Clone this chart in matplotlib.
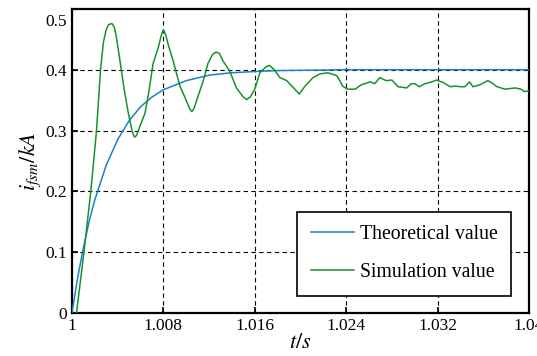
import matplotlib
matplotlib.use("Agg")
import matplotlib.pyplot as plt
from matplotlib.transforms import ScaledTranslation

plt.rcParams['font.family'] = ['Liberation Serif', 'DejaVu Serif']
plt.rcParams['mathtext.fontset'] = 'stix'

# theoretical value (t in ms after 1 s, current in kA)
t_theo_ms = [0, 0.5, 1, 1.5, 2, 3, 4, 5, 6, 7, 8, 10, 12, 14, 16, 18, 20, 24, 30, 40]
i_theo = [0, 0.058, 0.107, 0.150, 0.186, 0.243, 0.285, 0.316, 0.339, 0.355, 0.367,
          0.382, 0.391, 0.395, 0.397, 0.3986, 0.399, 0.4, 0.4, 0.4]

# simulation value
t_sim_ms = [0.4, 1.05, 1.65, 2.15, 2.5, 2.75, 3.0, 3.2, 3.5, 3.7, 3.85, 4.0, 4.2, 4.55,
            4.9, 5.25, 5.4, 5.5, 5.65, 5.95, 6.4, 6.7, 7.1, 7.55, 7.8, 8.0, 8.2, 8.4,
            8.85, 9.45, 9.9, 10.3, 10.5, 10.7, 10.9, 11.5, 11.9, 12.3, 12.6, 12.9, 13.2,
            13.8, 14.4, 15.0, 15.3, 15.6, 16.0, 16.45, 17.0, 17.3, 17.7,
            18.2, 18.8, 19.4, 19.9, 20.4, 21.1, 21.7, 22.4, 23.2, 23.7, 24.1, 24.8,
            25.3, 26.1, 26.5, 26.95, 27.5, 28.0, 28.55, 29.3, 29.7, 30.0, 30.4, 30.9,
            31.5, 31.9, 32.5, 33.1, 33.5, 34.1, 34.4, 34.8, 35.1, 35.7, 36.4, 36.7,
            37.2, 37.9, 38.8, 39.3, 39.6, 40.0]
i_sim = [0, 0.1, 0.2, 0.3, 0.4, 0.445, 0.466, 0.474, 0.476, 0.47, 0.458, 0.44, 0.415, 0.37,
         0.332, 0.3, 0.292, 0.289, 0.292, 0.307, 0.329, 0.36, 0.41, 0.436, 0.455, 0.466,
         0.458, 0.443, 0.415, 0.373, 0.354, 0.336, 0.331, 0.337, 0.349, 0.382, 0.41,
         0.425, 0.429, 0.427, 0.415, 0.398, 0.37, 0.355, 0.351, 0.355, 0.368, 0.395,
         0.405, 0.407, 0.4, 0.387, 0.382, 0.37, 0.36, 0.373, 0.387, 0.393, 0.395, 0.39,
         0.373, 0.368, 0.368, 0.375, 0.38, 0.377, 0.387, 0.382, 0.383, 0.372, 0.37,
         0.377, 0.377, 0.372, 0.377, 0.38, 0.383, 0.379, 0.372, 0.373, 0.372, 0.372,
         0.38, 0.372, 0.375, 0.382, 0.379, 0.372, 0.368, 0.37, 0.368, 0.364, 0.365]

x_ticks = [1, 1.008, 1.016, 1.024, 1.032, 1.04]
x_labels = ['1', '1.008', '1.016', '1.024', '1.032', '1.04']
y_ticks = [0, 0.1, 0.2, 0.3, 0.4, 0.5]
y_labels = ['0', '0.1', '0.2', '0.3', '0.4', '0.5']

t_theo = [1 + v / 1000 for v in t_theo_ms]
t_sim = [1 + v / 1000 for v in t_sim_ms]

fig = plt.figure(figsize=(5.37, 3.56), dpi=100)
ax = fig.add_axes([0.134, 0.121, 0.851, 0.854])

ax.plot(t_theo, i_theo, color='#1a7fd0', lw=1.1, label='Theoretical value', zorder=3)
ax.plot(t_sim, i_sim, color='#18922a', lw=1.1, label='Simulation value', zorder=3)

ax.set_xlim(1, 1.04)
ax.set_ylim(0, 0.5)
ax.set_xticks(x_ticks)
ax.set_xticklabels(x_labels)
ax.set_yticks(y_ticks)
ax.set_yticklabels(y_labels)
ax.tick_params(direction='in', length=4, width=1.2, labelsize=12.5)
ax.grid(True, color='black', linestyle=(0, (4, 3)), linewidth=0.8)
for sp in ax.spines.values():
    sp.set_linewidth(1.6)

# top label sits a bit lower in the original
lbl = ax.get_yticklabels()[-1]
lbl.set_transform(lbl.get_transform() + ScaledTranslation(0, -8 / 72, fig.dpi_scale_trans))

ax.set_xlabel(r'$t/s$', fontsize=16, labelpad=0)
ax.set_ylabel(r'$i_{fsm}/kA$', fontsize=16, labelpad=2)

leg = ax.legend(loc='lower right', bbox_to_anchor=(0.961, 0.056), fontsize=14.2,
                fancybox=False, edgecolor='black', framealpha=1, labelspacing=0.95,
                borderpad=0.7, handlelength=2.2, handletextpad=0.28, borderaxespad=0)
leg.get_frame().set_linewidth(1.2)

fig.savefig('out.png', dpi=100)
